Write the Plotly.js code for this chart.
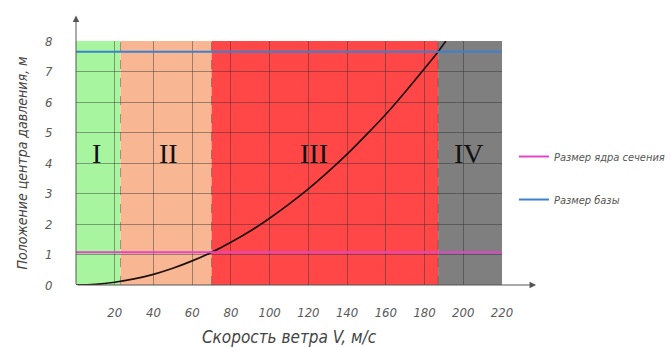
<!DOCTYPE html>
<html><head><meta charset="utf-8">
<script src="https://cdn.plot.ly/plotly-3.0.1.min.js"></script>
<style>html,body{margin:0;padding:0;background:#fff}</style>
</head><body>
<div id="chart" style="width:670px;height:347px"></div>
<script>
// ---- data ----
const zoneNames  = ['I', 'II', 'III', 'IV'];
const zoneStart  = [0, 23, 70, 187];
const zoneEnd    = [23, 70, 187, 220];
const speed  = [0, 10, 20, 30, 40, 50, 60, 70, 80, 90, 100, 110, 120, 130, 140, 150, 160, 170, 180, 187, 191];
const center = [0, 0.02, 0.09, 0.2, 0.35, 0.55, 0.79, 1.07, 1.4, 1.77, 2.19, 2.65, 3.15, 3.7, 4.29, 4.93, 5.6, 6.33, 7.1, 7.65, 8.0];
const coreSize = 1.07;   // Размер ядра сечения
const baseSize = 7.65;   // Размер базы
const xTicks = [20, 40, 60, 80, 100, 120, 140, 160, 180, 200, 220];
const yTicks = [0, 1, 2, 3, 4, 5, 6, 7, 8];
const xRange = [0, 220];
const yRange = [0, 8];

// ---- styles ----
const zoneColors = ['#a8f5a0', '#f9b692', '#ff4747', '#7f7f7f'];
const zoneLabelX = [10.5, 48, 123, 203];
const zoneLabelY = 4.3;
const FONT = '"DejaVu Sans Condensed", "DejaVu Sans", sans-serif';
const gridColor = 'rgba(40,40,40,0.42)';

const shapes = [];
zoneStart.forEach((s, i) => {
  shapes.push({type: 'rect', xref: 'x', yref: 'y', x0: s, x1: zoneEnd[i], y0: yRange[0], y1: yRange[1],
               fillcolor: zoneColors[i], line: {width: 0}, layer: 'below'});
});
zoneStart.slice(1).forEach(s => {
  shapes.push({type: 'line', xref: 'x', yref: 'y', x0: s, x1: s, y0: yRange[0], y1: yRange[1],
               line: {color: 'rgba(60,60,60,0.45)', width: 1, dash: 'dash'}, layer: 'below'});
});

const annotations = zoneNames.map((n, i) => ({
  x: zoneLabelX[i], y: zoneLabelY, xref: 'x', yref: 'y', text: n, showarrow: false,
  font: {family: '"Liberation Serif", "DejaVu Serif", serif', size: 28, color: '#111'}
}));
// axis arrows
annotations.push({xref: 'paper', yref: 'paper', x: 0, y: 1.105, ax: 0, ay: 270, axref: 'pixel', ayref: 'pixel',
  text: '', showarrow: true, arrowhead: 2, arrowsize: 1.3, arrowwidth: 1, arrowcolor: '#555'});
annotations.push({xref: 'paper', yref: 'paper', x: 1.08, y: 0, ax: -460, ay: 0, axref: 'pixel', ayref: 'pixel',
  text: '', showarrow: true, arrowhead: 2, arrowsize: 1.3, arrowwidth: 1, arrowcolor: '#555'});

const traces = [
  {x: speed, y: center, mode: 'lines', line: {color: '#1f1010', width: 1.7, shape: 'spline'},
   showlegend: false, hoverinfo: 'skip'},
  {x: xRange, y: [coreSize, coreSize], mode: 'lines', name: 'Размер ядра сечения',
   line: {color: '#e246c8', width: 2}, legendgroup: 'a'},
  {x: xRange, y: [baseSize, baseSize], mode: 'lines', name: 'Размер базы',
   line: {color: '#3d80d2', width: 2}, legendgroup: 'b'}
];

const tickFont = {family: FONT, size: 13, color: '#5a5a5a', style: 'italic'};
const layout = {
  width: 670, height: 347,
  margin: {l: 76, r: 168, t: 41, b: 62, autoexpand: false},
  paper_bgcolor: '#fff', plot_bgcolor: '#fff',
  showlegend: true,
  legend: {x: 1.028, xanchor: 'left', y: 0.586, yanchor: 'top', tracegroupgap: 24,
           font: {family: FONT, size: 11, color: '#555', style: 'italic'}, bgcolor: 'rgba(0,0,0,0)'},
  xaxis: {range: xRange, fixedrange: true, tickvals: xTicks, showgrid: true, gridcolor: gridColor, gridwidth: 1,
          zeroline: false, showline: false, ticks: 'outside', ticklen: 15, tickcolor: 'rgba(0,0,0,0)',
          tickfont: tickFont,
          title: {text: 'Скорость ветра V, м/с', standoff: 15,
                  font: {family: FONT, size: 17, color: '#444', style: 'italic'}}},
  yaxis: {range: yRange, fixedrange: true, tickvals: yTicks, showgrid: true, gridcolor: gridColor, gridwidth: 1,
          zeroline: false, showline: false, ticks: 'outside', ticklen: 20, tickcolor: 'rgba(0,0,0,0)',
          tickfont: tickFont,
          title: {text: 'Положение центра давления, м', standoff: 14,
                  font: {family: FONT, size: 14, color: '#444', style: 'italic'}}},
  shapes: shapes,
  annotations: annotations
};
Plotly.newPlot('chart', traces, layout, {displayModeBar: false, staticPlot: true});
</script>
</body></html>
